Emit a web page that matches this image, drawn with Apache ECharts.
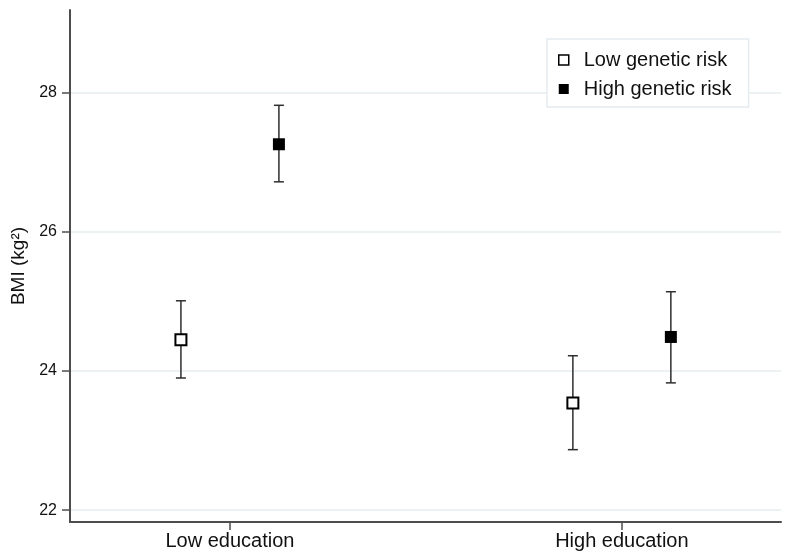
<!DOCTYPE html>
<html>
<head>
<meta charset="utf-8">
<script src="https://cdn.jsdelivr.net/npm/echarts@6/dist/echarts.min.js"></script>
<style>
  html, body { margin: 0; padding: 0; background: #fff; }
  #chart { width: 786px; height: 556px; }
</style>
</head>
<body>
<div id="chart"></div>
<script>
// education groups and where they sit on the x scale
const groups = ['Low education', 'High education']
const groupPos = [1, 2]
const yTicks = [22, 24, 26, 28]

// BMI means with 95% CI, one value per education group
const lowRiskMean = [24.45, 23.54]
const lowRiskLower = [23.90, 22.87]
const lowRiskUpper = [25.01, 24.22]

const highRiskMean = [27.26, 24.49]
const highRiskLower = [26.72, 23.83]
const highRiskUpper = [27.82, 25.14]

const shift = 0.125
const font = 'Liberation Sans, Arial, Helvetica, sans-serif'

const points = (means, dx) => means.map((m, i) => [groupPos[i] + dx, m])
const bars = (lo, hi, dx) => lo.map((l, i) => [groupPos[i] + dx, l, hi[i]])

const renderBar = (params, api) => {
  const x = api.value(0)
  const top = api.coord([x, api.value(2)])
  const bot = api.coord([x, api.value(1)])
  const hw = 5
  const style = { stroke: '#2e2e2e', lineWidth: 1.5 }
  return {
    type: 'group',
    children: [
      { type: 'line', shape: { x1: top[0], y1: top[1], x2: bot[0], y2: bot[1] }, style },
      { type: 'line', shape: { x1: top[0] - hw, y1: top[1], x2: top[0] + hw, y2: top[1] }, style },
      { type: 'line', shape: { x1: bot[0] - hw, y1: bot[1], x2: bot[0] + hw, y2: bot[1] }, style }
    ]
  }
}

const chart = echarts.init(document.getElementById('chart'))

chart.setOption({
  animation: false,
  textStyle: { fontFamily: font },
  grid: { left: 70, right: 5, top: 10, bottom: 34 },
  legend: {
    orient: 'vertical',
    left: 547,
    top: 39,
    padding: [11, 17, 8, 11],
    itemGap: 9,
    itemWidth: 10,
    itemHeight: 10,
    backgroundColor: '#fff',
    borderColor: '#e3ecef',
    borderWidth: 1.5,
    textStyle: { fontSize: 20, color: '#111', padding: [0, 0, 0, 10] },
    data: [
      { name: 'Low genetic risk', icon: 'rect', itemStyle: { color: '#fff', borderColor: '#000', borderWidth: 1.5 } },
      { name: 'High genetic risk', icon: 'rect', itemStyle: { color: '#000', borderWidth: 0 } }
    ]
  },
  xAxis: {
    type: 'value',
    min: 0.592,
    max: 2.406,
    axisLine: { show: true, lineStyle: { color: '#4d4d4d', width: 2 } },
    axisTick: { show: true, customValues: groupPos, length: 8, lineStyle: { color: '#4d4d4d', width: 1.5 } },
    axisLabel: {
      customValues: groupPos,
      margin: 9,
      fontSize: 20,
      color: '#111',
      formatter: (v) => groups[groupPos.indexOf(v)]
    },
    splitLine: { show: false }
  },
  yAxis: {
    type: 'value',
    min: 21.83,
    max: 29.19,
    name: 'BMI (kg²)',
    nameLocation: 'middle',
    nameGap: 38,
    nameTextStyle: { fontSize: 19, color: '#111' },
    axisLine: { show: true, lineStyle: { color: '#4d4d4d', width: 2 } },
    axisTick: { show: true, customValues: yTicks, length: 8, lineStyle: { color: '#4d4d4d', width: 1.5 } },
    axisLabel: { customValues: yTicks, margin: 13, fontSize: 16, color: '#111' },
    splitLine: { show: true, lineStyle: { color: '#e6eef1', width: 1.5 } }
  },
  series: [
    {
      name: 'Low genetic risk CI',
      type: 'custom',
      renderItem: renderBar,
      encode: { x: 0, y: [1, 2] },
      data: bars(lowRiskLower, lowRiskUpper, -shift),
      z: 2
    },
    {
      name: 'High genetic risk CI',
      type: 'custom',
      renderItem: renderBar,
      encode: { x: 0, y: [1, 2] },
      data: bars(highRiskLower, highRiskUpper, shift),
      z: 2
    },
    {
      name: 'Low genetic risk',
      type: 'scatter',
      symbol: 'rect',
      symbolSize: 11,
      itemStyle: { color: '#fff', borderColor: '#000', borderWidth: 2, opacity: 1 },
      data: points(lowRiskMean, -shift),
      z: 3
    },
    {
      name: 'High genetic risk',
      type: 'scatter',
      symbol: 'rect',
      symbolSize: 12,
      itemStyle: { color: '#000', opacity: 1 },
      data: points(highRiskMean, shift),
      z: 3
    }
  ]
})

window.addEventListener('resize', () => chart.resize())
</script>
</body>
</html>
